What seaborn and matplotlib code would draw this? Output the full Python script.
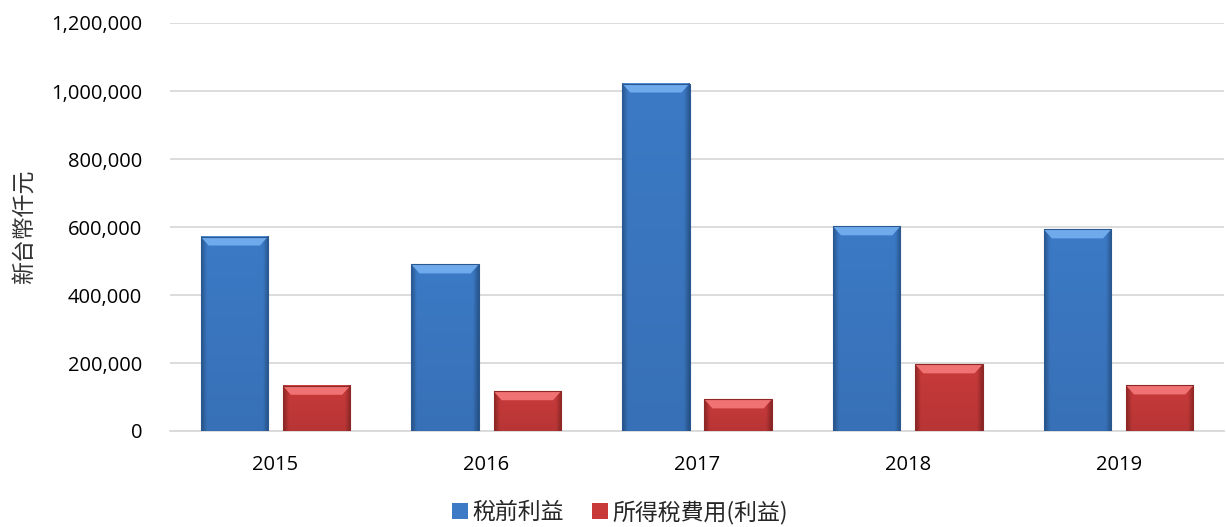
import numpy as np
import pandas as pd
import matplotlib
matplotlib.use("Agg")
import matplotlib.pyplot as plt
import seaborn as sns
from matplotlib.ticker import FuncFormatter
from matplotlib.patches import Rectangle

years = ["2015", "2016", "2017", "2018", "2019"]
series_names = ["稅前利益", "所得稅費用(利益)"]
pretax = [572000, 490000, 1022000, 602000, 593000]
tax = [133000, 117000, 93000, 196000, 134000]
y_label = "新台幣仟元"

df = pd.DataFrame({
    "year": years * 2,
    "series": [series_names[0]] * len(years) + [series_names[1]] * len(years),
    "value": pretax + tax,
})

sns.set_theme(style="white")
plt.rcParams["font.family"] = ["Open Sans", "Noto Sans CJK TC", "DejaVu Sans"]

palette = {series_names[0]: "#3C7AC6", series_names[1]: "#C83A3A"}
light = {series_names[0]: "#6FAAEC", series_names[1]: "#F07272"}
dark = {series_names[0]: "#2A5890", series_names[1]: "#902828"}

fig = plt.figure(figsize=(12.26, 5.27), dpi=100)
ax = fig.add_axes([170 / 1226, 1 - 431 / 527, (1224 - 170) / 1226, (431 - 23) / 527])

sns.barplot(data=df, x="year", y="value", hue="series", palette=palette,
            width=0.78, gap=0.18, ax=ax, saturation=1, legend=True,
            edgecolor="none", zorder=3)

ax.set_ylim(0, 1200000)
ax.set_yticks(np.arange(0, 1200001, 200000))
ax.yaxis.set_major_formatter(FuncFormatter(lambda v, p: f"{int(v):,}"))
ax.grid(axis="y", color="#D9D9D9", linewidth=1.3, zorder=0)
ax.set_axisbelow(True)
for s in ["top", "right", "left"]:
    ax.spines[s].set_visible(False)
ax.spines["bottom"].set_color("#D9D9D9")
ax.spines["bottom"].set_linewidth(1.3)
ax.tick_params(axis="y", length=0, pad=20, labelsize=14.5, labelcolor="#000000")
ax.tick_params(axis="x", length=0, pad=17, labelsize=14.5, labelcolor="#000000")
ax.set_xlabel("")
ax.set_ylabel(y_label, fontsize=16.5, family=["Noto Sans CJK TC", "DejaVu Sans"], color="#333333")
ax.yaxis.set_label_coords(-134 / 1054, 0.5)

# bevel / gradient shading, derived from each bar patch
ypx = 1200000 / 408.0
bars = [p for p in ax.patches if isinstance(p, Rectangle) and p.get_height() > 0]
n = len(years)
for i, p in enumerate(bars[: 2 * n]):
    name = series_names[i // n]
    x0, y0 = p.get_x(), p.get_y()
    w, h = p.get_width(), p.get_height()
    base = np.array(matplotlib.colors.to_rgb(palette[name]))
    dk = np.array(matplotlib.colors.to_rgb(dark[name]))
    t = np.linspace(0, 1, 64)
    prof = np.clip(np.minimum(t, 1 - t) * 12, 0, 1)
    vert = np.linspace(0, 1, 64)[:, None]
    img = dk[None, None, :] * (1 - prof[None, :, None]) + base[None, None, :] * prof[None, :, None]
    img = img * (0.92 + 0.08 * vert[:, :, None])
    ax.imshow(img, extent=(x0, x0 + w, y0, y0 + h), origin="lower", aspect="auto", zorder=3.5,
              interpolation="bilinear")
    bev = 9 * ypx
    dx = w * 0.12
    top = y0 + h
    ax.add_patch(matplotlib.patches.Polygon(
        [(x0, top), (x0 + w, top), (x0 + w - dx, top - bev), (x0 + dx, top - bev)],
        closed=True, facecolor=light[name], edgecolor="none", zorder=3.6))
    ax.add_patch(Rectangle((x0, y0), w, h, facecolor="none", edgecolor=dk, linewidth=0.8, zorder=3.7))
ax.set_xlim(-0.5, n - 0.5)

handles, labels = ax.get_legend_handles_labels()
ax.legend(handles, labels, loc="center", bbox_to_anchor=(620 / 1226, 1 - 512 / 527),
          bbox_transform=fig.transFigure, ncol=2, frameon=False,
          handlelength=0.7, handleheight=0.7, handletextpad=0.2, columnspacing=1.2,
          prop={"family": ["Noto Sans CJK TC", "DejaVu Sans"], "size": 16.5})

fig.savefig("out.png", dpi=100)
